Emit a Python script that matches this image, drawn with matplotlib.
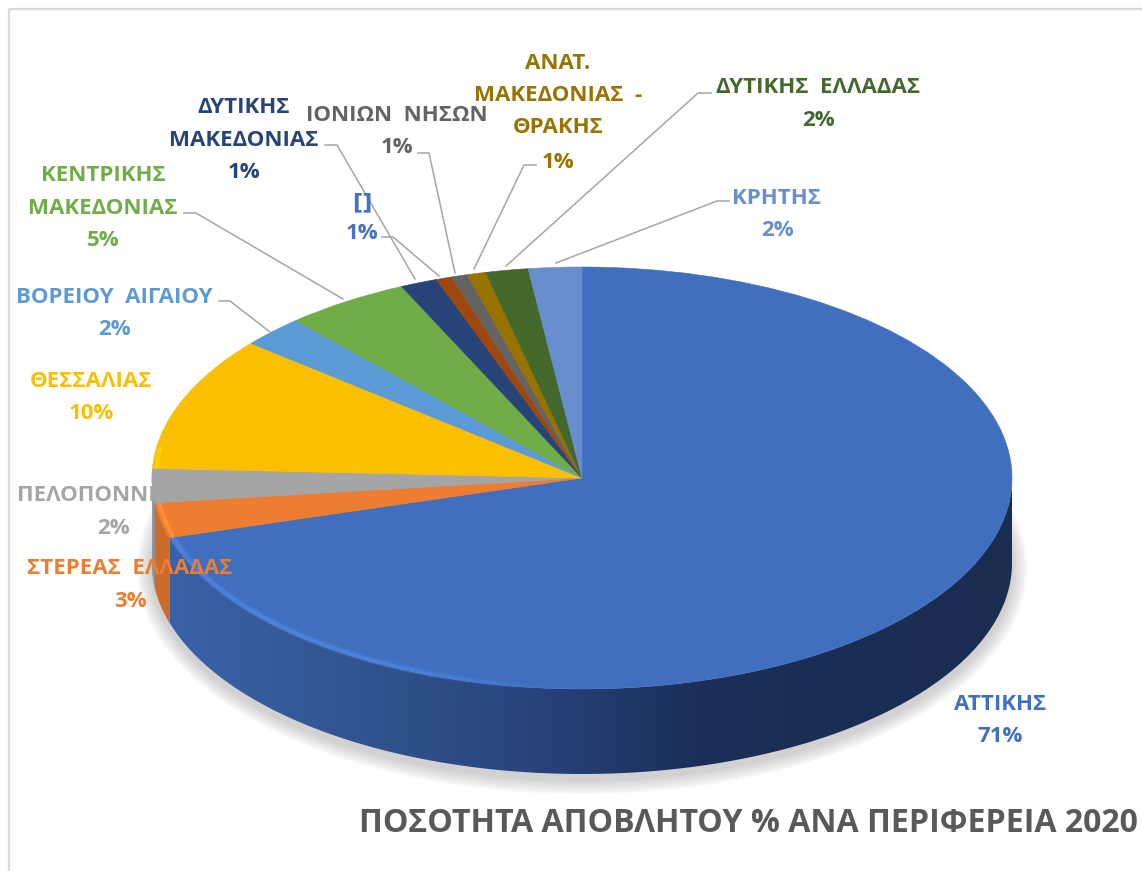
import numpy as np
import matplotlib
matplotlib.use('Agg')
import matplotlib.pyplot as plt
from matplotlib.colors import to_rgb, LinearSegmentedColormap
from matplotlib.patches import Polygon

regions = [['ΑΤΤΙΚΗΣ'], ['ΣΤΕΡΕΑΣ  ΕΛΛΑΔΑΣ'], ['ΠΕΛΟΠΟΝΝΗΣΟΥ'], ['ΘΕΣΣΑΛΙΑΣ'], ['ΒΟΡΕΙΟΥ  ΑΙΓΑΙΟΥ'],
           ['ΚΕΝΤΡΙΚΗΣ', 'ΜΑΚΕΔΟΝΙΑΣ'], ['ΔΥΤΙΚΗΣ', 'ΜΑΚΕΔΟΝΙΑΣ'], ['[]'], ['ΙΟΝΙΩΝ  ΝΗΣΩΝ'],
           ['ΑΝΑΤ.', 'ΜΑΚΕΔΟΝΙΑΣ  -', 'ΘΡΑΚΗΣ'], ['ΔΥΤΙΚΗΣ  ΕΛΛΑΔΑΣ'], ['ΚΡΗΤΗΣ']]
shares = [70.5, 2.7, 2.6, 10.3, 2.4, 4.7, 1.4, 0.6, 0.6, 0.7, 1.6, 2.0]
share_labels = ['71%', '3%', '2%', '10%', '2%', '5%', '1%', '1%', '1%', '1%', '2%', '2%']
colors = ['#406fbf', '#ed7d31', '#a5a5a5', '#fbbf00', '#5b9bd5', '#70ad47',
          '#264478', '#9e480e', '#636363', '#997300', '#43682b', '#698ed0']
label_colors = colors[:7] + ['#4472c4'] + colors[8:]
title = 'ΠΟΣΟΤΗΤΑ ΑΠΟΒΛΗΤΟΥ % ΑΝΑ ΠΕΡΙΦΕΡΕΙΑ 2020'

# label layout in picture pixels: centre x, then y of every line
label_x = [1000, 130, 113, 91, 114, 103, 244, 362, 397, 558, 818, 777]
label_y = [[703, 735], [567, 600], [494, 527], [380, 412], [296, 328], [174, 207, 239],
           [106, 139, 171], [201, 232], [114, 146], [62, 94, 126, 161], [86, 119], [197, 229]]

leaders = {
    4: [(219, 301), (230, 301), (270, 332)],
    5: [(184, 213), (196, 213), (343, 299)],
    6: [(325, 145), (337, 145), (415, 279)],
    7: [(382, 237), (393, 237), (439, 276)],
    8: [(418, 153), (429, 153), (455, 273)],
    9: [(536, 165), (524, 165), (474, 269)],
    10: [(711, 93), (698, 93), (506, 266)],
    11: [(729, 201), (717, 201), (556, 263)],
}

WIDTH, HEIGHT = 1142, 871
CX, CY, RX, RY, DEPTH = 582, 478, 430, 211, 85

plt.rcParams['font.family'] = ['Open Sans', 'DejaVu Sans']


def rim_xy(theta, scale=1.0):
    # theta in degrees, clockwise from twelve o'clock
    rad = np.radians(theta)
    return CX + scale * RX * np.sin(rad), CY - scale * RY * np.cos(rad)


def full_axes(fig, zorder):
    ax = fig.add_axes([0, 0, 1, 1], zorder=zorder)
    ax.set_xlim(0, WIDTH)
    ax.set_ylim(HEIGHT, 0)
    ax.axis('off')
    return ax


def wall_polygon(start, end):
    x, y = rim_xy(np.linspace(start, end, 200))
    return np.column_stack([np.r_[x, x[::-1]], np.r_[y, y[::-1] + DEPTH]])


def draw_wall(ax, edges):
    # front of the big slice, gradient clipped to the wall outline
    x0, x1 = 160, 1020
    stops = [(168, '#3a62a8'), (360, '#31558f'), (540, '#27437a'), (700, '#1b2f58'), (1020, '#1a2c50')]
    cmap = LinearSegmentedColormap.from_list('wall', [((x - x0) / (x1 - x0) if x > x0 else 0, c) for x, c in
                                                      [(x0, stops[0][1])] + stops])
    outline = Polygon(wall_polygon(90, edges[1]), closed=True, transform=ax.transData, facecolor='none', edgecolor='none')
    ax.add_patch(outline)
    im = ax.imshow(np.linspace(0, 1, 512)[None, :], extent=(x0, x1, 800, 400), cmap=cmap, aspect='auto', zorder=3)
    im.set_clip_path(outline)
    ax.set_xlim(0, WIDTH)
    ax.set_ylim(HEIGHT, 0)
    for i in (1, 2):
        shade = [v * 0.86 for v in to_rgb(colors[i])]
        ax.add_patch(Polygon(wall_polygon(edges[i], min(edges[i + 1], 272)), closed=True, facecolor=shade, edgecolor=shade, lw=0.3, zorder=3))


def draw_shadow(ax):
    t = np.linspace(0, 360, 361)
    for k in np.arange(22, 0, -2):
        x = CX + (RX + k * 0.7) * np.sin(np.radians(t))
        y = CY + DEPTH + 5 - (RY + k * 0.7) * np.cos(np.radians(t))
        ax.fill(x, y, color='#808080', alpha=0.035, linewidth=0, zorder=1)


def draw_rims(ax, edges):
    # lighter bevel along the front edge of the top face
    t = np.linspace(edges[1] - 70, edges[1], 80)
    for a, b in zip(t[:-1], t[1:]):
        x, y = rim_xy(np.array([a, b]), 0.992)
        fade = min(1.0, (a - t[0]) / 25)
        ax.plot(x, y, color='#4f86e0', lw=5, alpha=fade * 0.3, solid_capstyle='butt')
        ax.plot(x, y, color='#4f86e0', lw=2.5, alpha=fade * 0.8, solid_capstyle='butt')
    for i, c, stop in [(1, '#ff8c38', edges[2]), (3, '#ffd000', edges[3] + 6)]:
        x, y = rim_xy(np.linspace(edges[i], stop, 30), 0.99)
        ax.plot(x, y, color=c, lw=3, solid_capstyle='butt')


def main():
    fig = plt.figure(figsize=(WIDTH / 100, HEIGHT / 100), dpi=100)

    back = full_axes(fig, 0)
    back.plot([9, 9, WIDTH], [HEIGHT, 9, 9], color='#d9d9d9', lw=1.6)

    edges = 360 * np.concatenate([[0], np.cumsum(shares)]) / sum(shares)
    draw_shadow(back)
    draw_wall(back, edges)

    pie_ax = fig.add_axes([(CX - RX) / WIDTH, (HEIGHT - CY - RY) / HEIGHT, 2 * RX / WIDTH, 2 * RY / HEIGHT], zorder=1)
    wedges, _ = pie_ax.pie(shares, colors=colors, startangle=90, counterclock=False, radius=1)
    for wedge, color in zip(wedges, colors):
        wedge.set_edgecolor(color)
        wedge.set_linewidth(0.4)
    pie_ax.set_aspect('auto')
    pie_ax.set_xlim(-1, 1)
    pie_ax.set_ylim(-1, 1)

    front = full_axes(fig, 2)
    draw_rims(front, edges)

    for points in leaders.values():
        xs, ys = zip(*points)
        front.plot(xs, ys, color='#a6a6a6', lw=1.1)

    for i, lines in enumerate(regions):
        for text, y in zip(lines + [share_labels[i]], label_y[i]):
            # Open Sans pulls the two brackets together, DejaVu keeps them apart
            family = ['DejaVu Sans'] if text == '[]' else None
            front.text(label_x[i], y + 1.5, text, color=label_colors[i], fontsize=16, fontweight='bold',
                       ha='center', va='center', family=family)

    front.text(359, 823, title, color='#595959', fontsize=23.1, fontweight='bold', ha='left', va='center')

    fig.savefig('out.png', dpi=100)


if __name__ == "__main__":
    main()
